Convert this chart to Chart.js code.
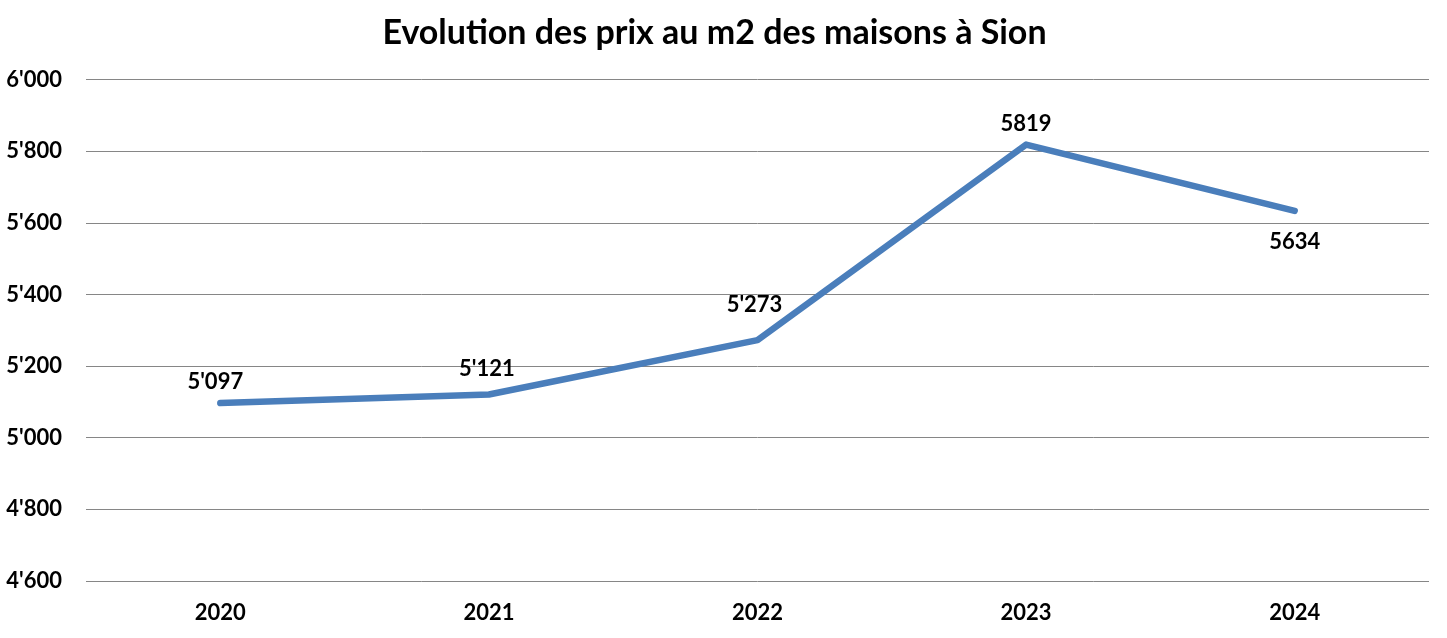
<!DOCTYPE html>
<html><head><meta charset="utf-8">
<script src="https://cdn.jsdelivr.net/npm/chart.js@4/dist/chart.umd.min.js"></script>
<style>html,body{margin:0;padding:0;background:#fff;}#wrap{width:1447px;height:638px;}</style>
</head><body><div id="wrap"><canvas id="c" width="1447" height="638"></canvas></div>
<script>
const categories = ["2020", "2021", "2022", "2023", "2024"];
const prices = [5097, 5121, 5273, 5819, 5634];
const pointLabels = ["5'097", "5'121", "5'273", "5819", "5634"];
const yTickValues = [4600, 4800, 5000, 5200, 5400, 5600, 5800, 6000];
const yTickLabels = ["4'600", "4'800", "5'000", "5'200", "5'400", "5'600", "5'800", "6'000"];
const titleText = "Evolution des prix au m2 des maisons à Sion";

const FONT = "Lato, 'Open Sans', sans-serif";

const labelPlugin = {
  id: 'valueLabels',
  afterDatasetsDraw(chart) {
    const ctx = chart.ctx;
    const meta = chart.getDatasetMeta(0);
    const dy = [-21, -26, -35, -21, 31];
    const dx = [-5, -2, -3, 0, 0];
    ctx.save();
    ctx.font = "bold 22px " + FONT;
    ctx.fillStyle = "#000";
    ctx.textAlign = "center";
    ctx.textBaseline = "middle";
    meta.data.forEach((pt, i) => {
      ctx.fillText(pointLabels[i], pt.x + dx[i], pt.y + dy[i]);
    });
    ctx.restore();
  }
};

new Chart(document.getElementById('c'), {
  type: 'line',
  data: {
    labels: categories,
    datasets: [{
      data: prices,
      borderColor: '#4a7ebb',
      borderWidth: 6.5,
      borderCapStyle: 'round',
      borderJoinStyle: 'round',
      pointRadius: 0,
      pointHoverRadius: 0,
      tension: 0,
      fill: false
    }]
  },
  options: {
    responsive: false,
    animation: false,
    layout: { padding: { top: 0, right: 18, bottom: 13, left: 0 } },
    plugins: {
      legend: { display: false },
      tooltip: { enabled: false },
      title: {
        display: true,
        text: titleText,
        color: '#000',
        font: { family: FONT, size: 34, weight: 'bold' },
        padding: { top: 13, bottom: 26 }
      }
    },
    scales: {
      x: {
        offset: true,
        afterFit(scale) { scale.height = 44; },
        grid: { display: false, drawTicks: false },
        border: { display: false },
        ticks: { color: '#000', font: { family: FONT, size: 22, weight: 'bold' }, padding: 19, maxRotation: 0 }
      },
      y: {
        min: 4600, max: 6000,
        afterFit(scale) { scale.width = 86; },
        afterBuildTicks(scale) { scale.ticks = yTickValues.map(v => ({ value: v })); },
        grid: { color: '#868686', lineWidth: 1, drawTicks: false },
        border: { display: false },
        ticks: {
          color: '#000',
          font: { family: FONT, size: 22, weight: 'bold' },
          padding: 24,
          callback(v) { const i = yTickValues.indexOf(v); return i >= 0 ? yTickLabels[i] : ''; }
        }
      }
    }
  },
  plugins: [labelPlugin]
});
</script></body></html>
